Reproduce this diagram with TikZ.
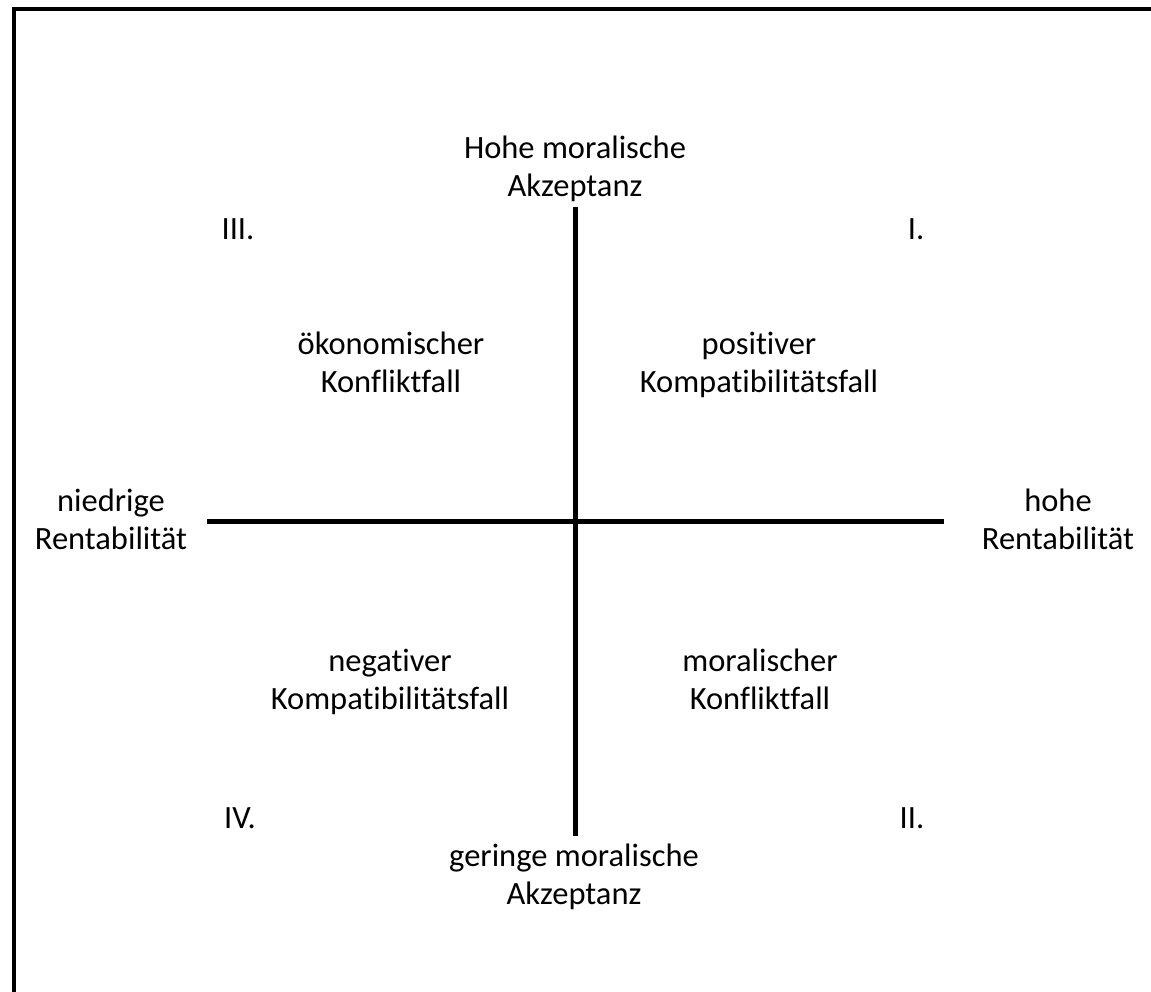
\documentclass[tikz,border=0pt]{standalone}
\usepackage{fontspec}
\setmainfont[Ligatures=NoCommon,RawFeature={-liga;-clig;-calt;-dlig}]{Carlito}
\begin{document}
\begin{tikzpicture}[x=1pt,y=-1pt,
  lbl/.style={align=center,inner sep=0pt,font=\fontsize{32.5}{38}\selectfont},
  axis/.style={line width=5pt},
  frame/.style={line width=4pt}]
\useasboundingbox (0,0) rectangle (1151,992);
% frame (left and top only)
\coordinate (fb) at (14,994);
\coordinate (fc) at (14,9);
\coordinate (fr) at (1153,9);
\draw[frame] (fb) -- (fc) -- (fr);
% axes
\coordinate (xl) at (207,521);
\coordinate (xr) at (944,521);
\coordinate (yt) at (575.5,207);
\coordinate (yb) at (575.5,836);
\draw[axis] (xl) -- (xr);
\draw[axis] (yt) -- (yb);
% labels
\node[lbl] (top) at (575,170.4) {\strut Hohe moralische\\\strut Akzeptanz};
\node[lbl] (bot) at (574,877.4) {\strut geringe moralische\\\strut Akzeptanz};
\node[lbl] (left) at (111,522.4) {\strut niedrige\\\strut Rentabilität};
\node[lbl] (right) at (1058,522.4) {\strut hohe\\\strut Rentabilität};
\node[lbl] (q3) at (391,365.4) {\strut ökonomischer\\\strut Konfliktfall};
\node[lbl] (q1) at (759,365.4) {\strut positiver\\\strut Kompatibilitätsfall};
\node[lbl] (q4) at (390,682.4) {\strut negativer\\\strut Kompatibilitätsfall};
\node[lbl] (q2) at (760,682.4) {\strut moralischer\\\strut Konfliktfall};
\node[lbl] (n3) at (238,232.4) {\strut III.};
\node[lbl] (n1) at (916,232.4) {\strut I.};
\node[lbl] (n4) at (240,821) {\strut IV.};
\node[lbl] (n2) at (912,821) {\strut II.};
\end{tikzpicture}
\end{document}
